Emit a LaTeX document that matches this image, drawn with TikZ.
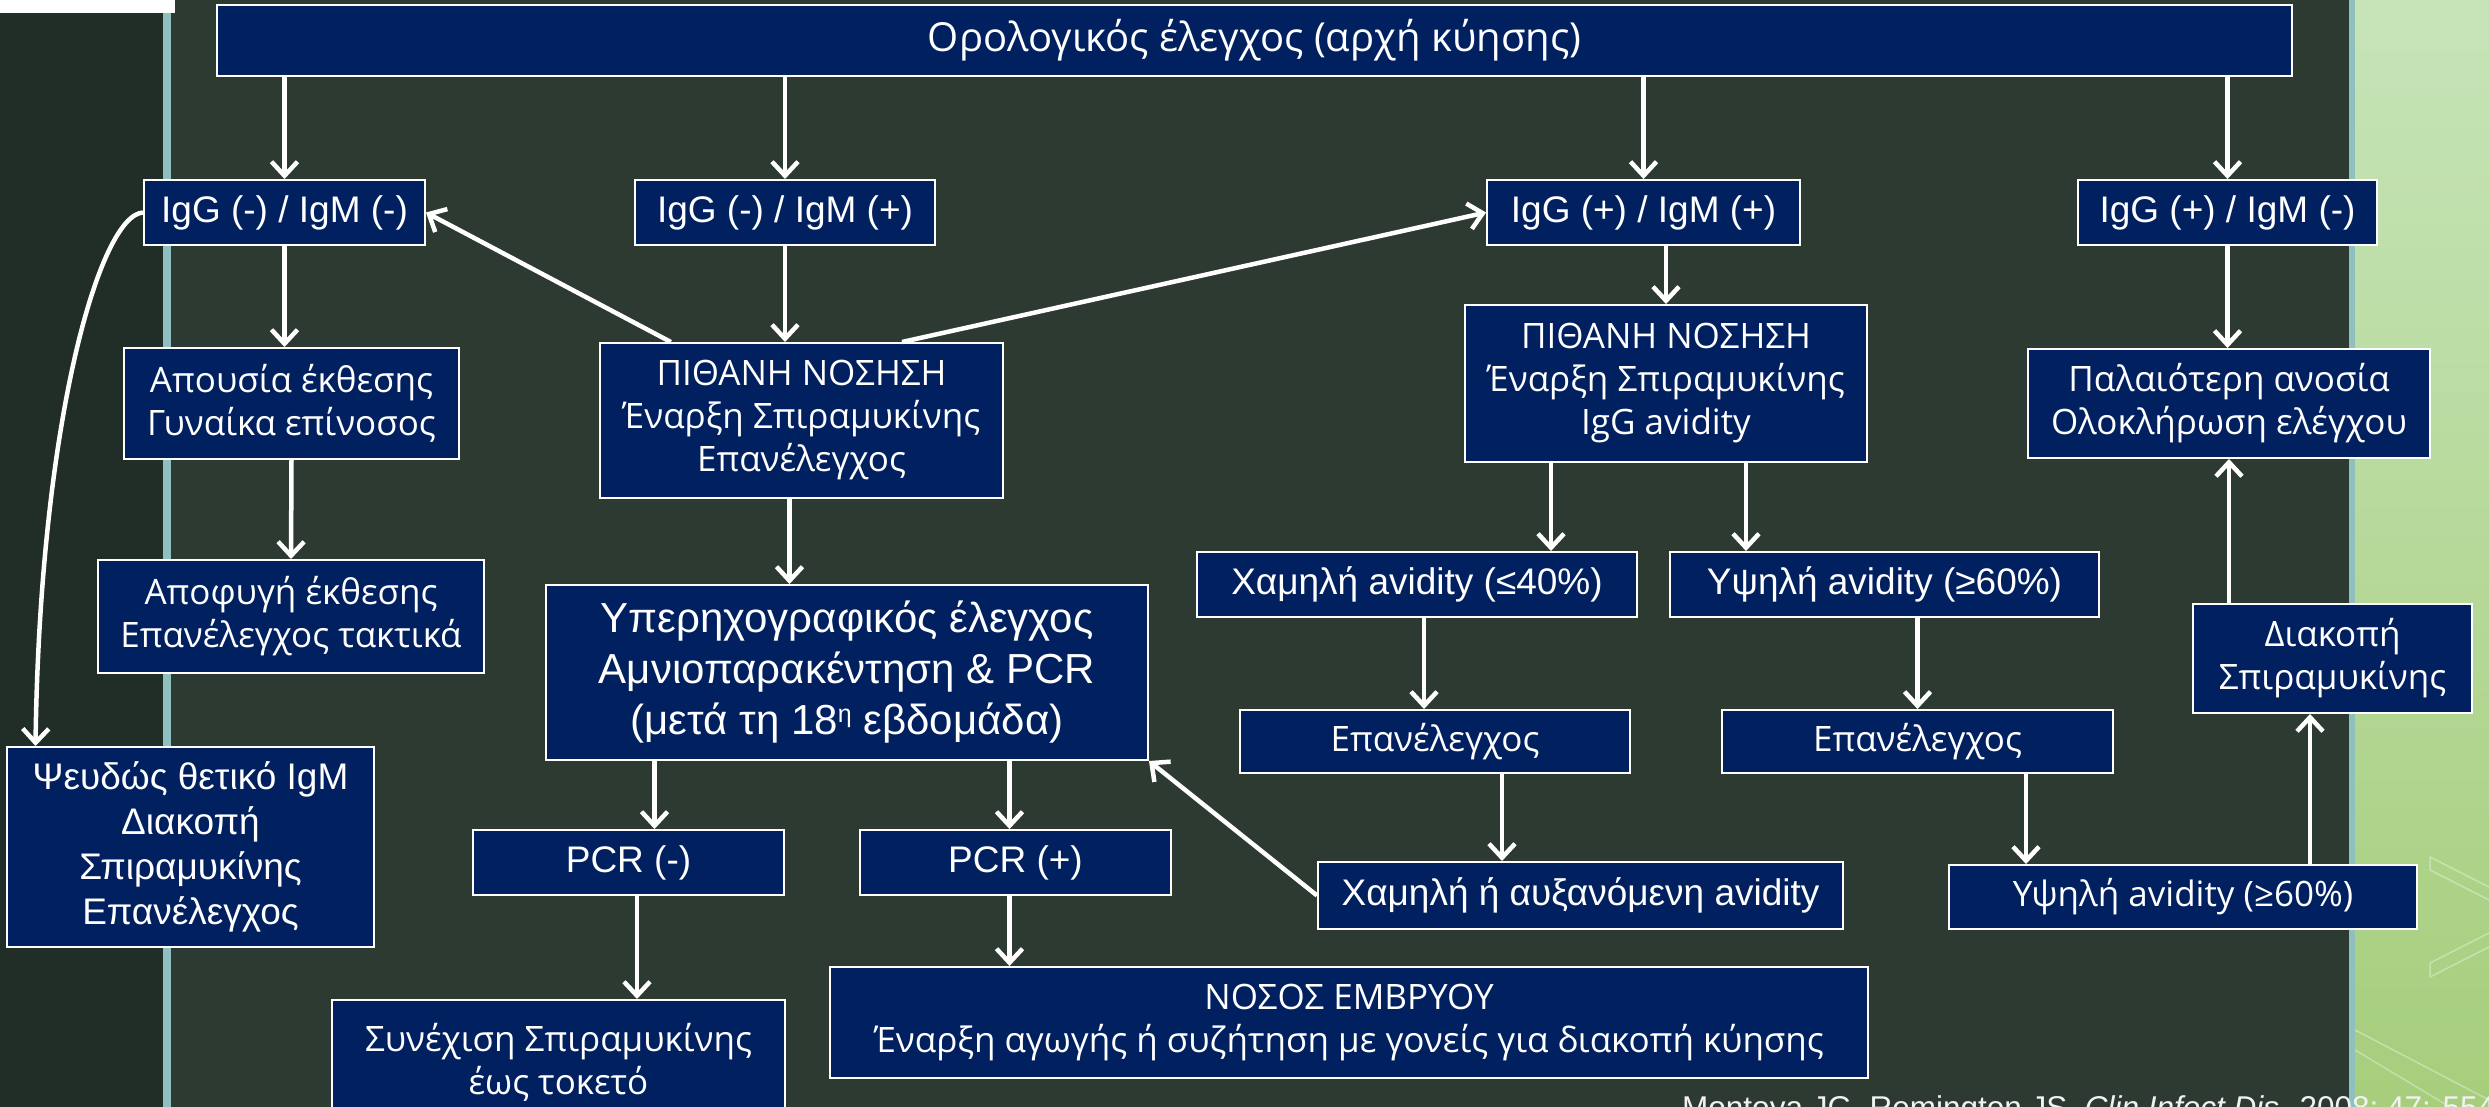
\documentclass[tikz,border=0pt]{standalone}
\usepackage{fontspec}
\usepackage{tikz}
\usetikzlibrary{arrows.meta}
\newfontfamily\arialfont{Liberation Sans}
\newfontfamily\segfont{Open Sans}
\definecolor{leftbg}{RGB}{33,45,39}
\definecolor{mainbg}{RGB}{44,58,49}
\definecolor{tealline}{RGB}{143,191,191}
\definecolor{boxblue}{RGB}{0,32,96}
\definecolor{greentop}{RGB}{198,228,184}
\definecolor{greenbot}{RGB}{166,206,124}

\begin{document}
\begin{tikzpicture}[x=1pt,y=1pt,yscale=-1,xscale=1,
    box/.style={draw=white, line width=2pt, fill=boxblue, text=white, align=center, inner sep=0pt},
    ar/.style={font=\arialfont\fontsize{37}{45}\selectfont},
    sg/.style={font=\segfont\fontsize{35}{43}\selectfont},
    arr/.style={white, line width=4.5pt, -{Straight Barb[length=14pt,width=26pt]}},
    deco/.style={white, opacity=0.35, line width=1.5pt}]
%set diagram to the slide size
\useasboundingbox (0,0) rectangle (2489,1107);
\clip (0,0) rectangle (2489,1107);

%Shape: Background panels
\fill[leftbg] (0,0) rectangle (163,1107);
\fill[mainbg] (171,0) rectangle (2349,1107);
\fill[tealline] (163,0) rectangle (171,1107);
\fill[tealline] (2349,0) rectangle (2355,1107);
\shade[top color=greentop, bottom color=greenbot] (2355,0) rectangle (2489,1107);
\fill[white] (0,0) rectangle (175,13);
%Shape: faint lines on the green strip
\draw[deco] (2489,887) -- (2430,857) -- (2430,870) -- (2489,900);
\draw[deco] (2489,933) -- (2430,963) -- (2430,977) -- (2489,947);
\draw[deco] (2355,1030) -- (2489,1100);
\draw[deco] (2355,1050) -- (2450,1107);

% Text Node
\node[box, minimum width=2075pt, minimum height=71pt, font=\segfont\fontsize{40}{48}\selectfont] (sero) at (1254.5,40.5) {Ορολογικός έλεγχος (αρχή κύησης)};

% Text Node
\node[box, ar, minimum width=281pt, minimum height=65pt] (igmm) at (284.5,212.5) {IgG (-) / IgM (-)};
\node[box, ar, minimum width=300pt, minimum height=65pt] (igmp) at (785,212.5) {IgG (-) / IgM (+)};
\node[box, ar, minimum width=313pt, minimum height=65pt] (igpp) at (1643.5,212.5) {IgG (+) / IgM (+)};
\node[box, ar, minimum width=299pt, minimum height=65pt] (igpm) at (2227.5,212.5) {IgG (+) / IgM (-)};

% Text Node
\node[box, sg, minimum width=335pt, minimum height=111pt] (absent) at (291.5,403.5) {Απουσία έκθεσης\\Γυναίκα επίνοσος};
\node[box, sg, minimum width=386pt, minimum height=113pt] (avoid) at (291,616.5) {Αποφυγή έκθεσης\\Επανέλεγχος τακτικά};
\node[box, ar, minimum width=367pt, minimum height=200pt] (false) at (190.5,847) {Ψευδώς θετικό IgM\\Διακοπή\\Σπιραμυκίνης\\Επανέλεγχος};

% Text Node
\node[box, sg, minimum width=403pt, minimum height=155pt] (probL) at (801.5,420.5) {ΠΙΘΑΝΗ ΝΟΣΗΣΗ\\Έναρξη Σπιραμυκίνης\\Επανέλεγχος};
\node[box, minimum width=602pt, minimum height=175pt, font=\arialfont\fontsize{42}{51}\selectfont] (us) at (847,672.5) {Υπερηχογραφικός έλεγχος\\Αμνιοπαρακέντηση \& PCR\\(μετά τη 18\raisebox{0.55ex}{\fontsize{25}{25}\selectfont η} εβδομάδα)};
\node[box, ar, minimum width=311pt, minimum height=65pt] (pcrn) at (628.5,862.5) {PCR (-)};
\node[box, ar, minimum width=311pt, minimum height=65pt] (pcrp) at (1015.5,862.5) {PCR (+)};
\node[box, sg, minimum width=453pt, minimum height=125pt] (cont) at (558.5,1062.5) {Συνέχιση Σπιραμυκίνης\\έως τοκετό};
\node[box, sg, minimum width=1038pt, minimum height=111pt] (fetal) at (1349,1022.5) {ΝΟΣΟΣ ΕΜΒΡΥΟΥ\\Έναρξη αγωγής ή συζήτηση με γονείς για διακοπή κύησης};

% Text Node
\node[box, sg, minimum width=402pt, minimum height=157pt] (probR) at (1666,383.5) {ΠΙΘΑΝΗ ΝΟΣΗΣΗ\\Έναρξη Σπιραμυκίνης\\IgG avidity};
\node[box, ar, minimum width=440pt, minimum height=65pt] (low) at (1417,584.5) {Χαμηλή avidity (≤40\%)};
\node[box, ar, minimum width=429pt, minimum height=65pt] (highA) at (1884.5,584.5) {Υψηλή avidity (≥60\%)};
\node[box, sg, minimum width=390pt, minimum height=63pt] (recheckL) at (1435,741.5) {Επανέλεγχος};
\node[box, sg, minimum width=391pt, minimum height=63pt] (recheckR) at (1917.5,741.5) {Επανέλεγχος};
\node[box, ar, minimum width=525pt, minimum height=67pt] (rising) at (1580.5,895.5) {Χαμηλή ή αυξανόμενη avidity};
\node[box, sg, minimum width=468pt, minimum height=64pt] (highB) at (2183,897) {Υψηλή avidity (≥60\%)};

% Text Node
\node[box, sg, minimum width=402pt, minimum height=109pt] (old) at (2229,403.5) {Παλαιότερη ανοσία\\Ολοκλήρωση ελέγχου};
\node[box, sg, minimum width=279pt, minimum height=109pt] (stop) at (2332.5,658.5) {Διακοπή\\Σπιραμυκίνης};

% Text Node
\node[anchor=base west, inner sep=0pt, text=white!90!gray, font=\arialfont\fontsize{31.5}{36}\selectfont] (cite) at (1682,1118.5) {Montoya JG, Remington JS. \textit{Clin Infect Dis.} 2008; 47: 554-566};

%Straight Lines
\draw[arr] (igmm |- sero.south) -- (igmm.north);
\draw[arr] (igmp |- sero.south) -- (igmp.north);
\draw[arr] (igpp |- sero.south) -- (igpp.north);
\draw[arr] (igpm |- sero.south) -- (igpm.north);

\draw[arr] (igmm.south) -- (igmm.south |- absent.north);
\draw[arr] (absent.south) -- (avoid.north);
%Curve Lines
\draw[arr] (igmm.west) .. controls (100,215) and (40,420) .. ([xshift=-155pt]false.north);

\draw[arr] (igmp.south) -- (igmp.south |- probL.north);
\draw[arr] (probL.149) -- (igmm.east);
\draw[arr] (probL.38) -- (igpp.west);
\draw[arr] ([xshift=-12pt]probL.south) -- ([xshift=-12pt]probL.south |- us.north);
\draw[arr] ([xshift=26pt]pcrn.north |- us.south) -- ([xshift=26pt]pcrn.north);
\draw[arr] ([xshift=-6pt]pcrp.north |- us.south) -- ([xshift=-6pt]pcrp.north);
\draw[arr] ([xshift=8.5pt]pcrn.south) -- ([xshift=8.5pt]pcrn.south |- cont.north);
\draw[arr] ([xshift=-6pt]pcrp.south) -- ([xshift=-6pt]pcrp.south |- fetal.north);

\draw[arr] (igpp.south -| probR.north) -- (probR.north);
\draw[arr] ([xshift=-115pt]probR.south) -- ([xshift=-115pt]probR.south |- low.north);
\draw[arr] ([xshift=80pt]probR.south) -- ([xshift=80pt]probR.south |- highA.north);
\draw[arr] ([xshift=7pt]low.south) -- ([xshift=7pt]low.south |- recheckL.north);
\draw[arr] (highA.south -| recheckR.north) -- (recheckR.north);
\draw[arr] ([xshift=67pt]recheckL.south) -- ([xshift=67pt]recheckL.south |- rising.north);
\draw[arr] ([xshift=108.5pt]recheckR.south) -- ([xshift=108.5pt]recheckR.south |- highB.north);
\draw[arr] (rising.west) -- (us.south east);

\draw[arr] ([xshift=127pt]highB.north) -- ([xshift=127pt]highB.north |- stop.south);
\draw[arr] (stop.north -| old.south) -- (old.south);
\draw[arr] (igpm.south) -- (igpm.south |- old.north);

\end{tikzpicture}
\end{document}
